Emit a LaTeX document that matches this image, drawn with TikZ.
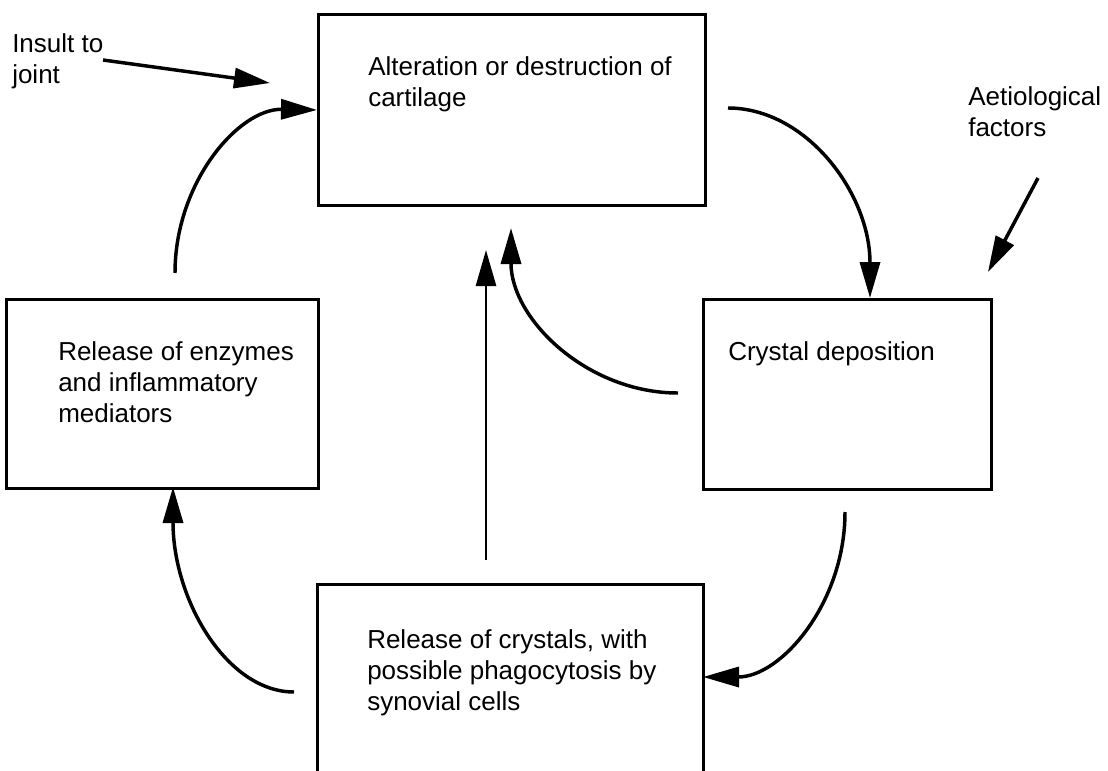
\documentclass[tikz,border=0pt]{standalone}
\usepackage{fontspec}
\setmainfont{Liberation Sans}
\usetikzlibrary{arrows.meta}
\begin{document}
\begin{tikzpicture}[x=0.75pt,y=-0.75pt,
  box/.style={draw, line width=2.2pt, inner sep=0pt, anchor=north west},
  lbl/.style={anchor=base west, inner sep=0pt, align=left, font=\fontsize{19.5}{23.25}\selectfont},
  conn/.style={line width=2.6pt, -{Triangle[length=27pt,width=15pt]}},
  thin conn/.style={conn, line width=2pt},
]
\clip (0,0) rectangle (1108,771);
\useasboundingbox (0,0) rectangle (1108,771);
% boxes
\node[box, minimum width=290.25pt, minimum height=143.25pt] (top) at (317,13) {};
\node[box, minimum width=234pt, minimum height=141.75pt] (left) at (5,298) {};
\node[box, minimum width=216pt, minimum height=142.5pt] (right) at (702,298) {};
\node[box, minimum width=289.5pt, minimum height=172.5pt] (bottom) at (316,583) {};
% texts (base anchor = baseline of the last line)
\node[lbl] (ttop) at ([shift={(51,93)}]top.north west) {Alteration or destruction of\\cartilage};
\node[lbl] (tleft) at ([shift={(53,124)}]left.north west) {Release of enzymes\\and inflammatory\\mediators};
\node[lbl] (tright) at ([shift={(26,62)}]right.north west) {Crystal deposition};
\node[lbl] (tbottom) at ([shift={(51,127)}]bottom.north west) {Release of crystals, with\\possible phagocytosis by\\synovial cells};
\node[lbl] (insult) at (12,83) {Insult to\\joint};
\node[lbl] (aetio) at (968,136) {Aetiological\\factors};
% free ends
\coordinate (insS) at (103,60);
\coordinate (insE) at (270,83);
\coordinate (aetS) at (1038,178);
\coordinate (aetE) at (988,272);
\coordinate (lS) at (175,273);
\coordinate (tS) at (728,108);
\coordinate (rN) at (870,298);
\coordinate (rS) at (678,393);
\coordinate (tB) at (511,228);
\coordinate (vS) at (486,560);
\coordinate (vE) at (486,250);
\coordinate (bS) at (294,692);
\coordinate (lB) at (173,487);
\coordinate (rB) at (845,512);
\coordinate (bE) at (703,677);
% connectors
\draw[conn] (insS) -- (insE);
\draw[conn] (aetS) -- (aetE);
\draw[conn] (lS) .. controls (175,182) and (239,108.5) .. (top.west);
\draw[conn] (tS) .. controls (806,108) and (870,193) .. (rN);
\draw[conn] (rS) .. controls (587,393) and (511,319) .. (tB);
\draw[thin conn] (vS) -- (vE);
\draw[conn] (bS) .. controls (227,692) and (173,600) .. (lB);
\draw[conn] (rB) .. controls (845,603) and (781,677) .. (bE);
\end{tikzpicture}
\end{document}
